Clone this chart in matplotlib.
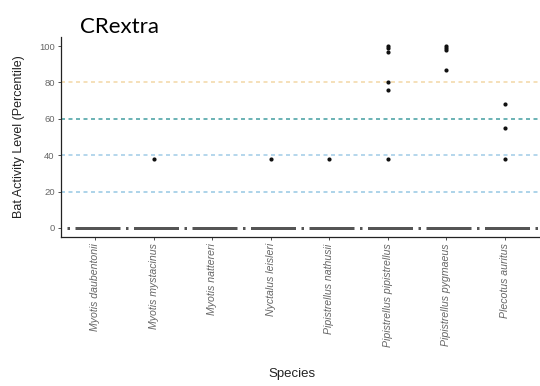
import matplotlib
matplotlib.use("Agg")
import matplotlib.pyplot as plt

plt.rcParams["lines.scale_dashes"] = False

species = [
    "Myotis daubentonii",
    "Myotis mystacinus",
    "Myotis nattereri",
    "Nyctalus leisleri",
    "Pipistrellus nathusii",
    "Pipistrellus pipistrellus",
    "Pipistrellus pygmaeus",
    "Plecotus auritus",
]

# non-zero activity percentiles per species
activity = {
    "Myotis daubentonii": [],
    "Myotis mystacinus": [38],
    "Myotis nattereri": [],
    "Nyctalus leisleri": [38],
    "Pipistrellus nathusii": [38],
    "Pipistrellus pipistrellus": [100, 99, 97, 80, 76, 38],
    "Pipistrellus pygmaeus": [100, 99, 98, 87],
    "Plecotus auritus": [68, 55, 38],
}

threshold_levels = [80, 60, 40, 20]
threshold_colors = ["#f3d7a4", "#3f9c9e", "#9fcbe6", "#94c6e2"]
y_ticks = [0, 20, 40, 60, 80, 100]

DPI = 100
px = 72.0 / DPI  # pixels -> points

fig = plt.figure(figsize=(5.40, 3.86), dpi=DPI)
ax = fig.add_axes([61 / 540, 1 - 237 / 386, 1 - 61 / 540, (237 - 37) / 386])

ax.set_xlim(-0.58, len(species) - 1 + 0.6)
ax.set_ylim(-5, 105)

for lvl, col in zip(threshold_levels, threshold_colors):
    ax.axhline(lvl, color=col, lw=1.5 * px, linestyle=(0, (4 * px, 3.5 * px)), zorder=1)

# dash-dot reference line at zero
ax.axhline(0, color="#555555", lw=3.0 * px, dash_capstyle="butt",
           linestyle=(44.5 * px, (45 * px, 5.5 * px, 2.5 * px, 5.5 * px)), zorder=2)

for i, sp in enumerate(species):
    vals = activity[sp]
    ax.scatter([i] * len(vals), vals, s=9, color="#111111", zorder=3, linewidths=0)

ax.set_xticks(range(len(species)))
ax.set_xticklabels(species, rotation=90, style="italic", fontsize=7.6,
                   color="#666666", family="Liberation Sans", va="top", ha="center")
ax.set_yticks(y_ticks)
ax.set_yticklabels([str(v) for v in y_ticks], fontsize=6.8, color="#666666",
                   family="Liberation Sans")
ax.tick_params(axis="both", length=2.5, width=0.6, color="#333333", pad=2)

for side in ("top", "right"):
    ax.spines[side].set_visible(False)
for side in ("left", "bottom"):
    ax.spines[side].set_linewidth(0.9)
    ax.spines[side].set_color("#222222")

ax.set_ylabel("Bat Activity Level (Percentile)", fontsize=9, family="Liberation Sans",
              color="#222222", labelpad=10)
fig.text(292 / 540, 1 - 374 / 386, "Species", fontsize=9.5, family="Liberation Sans",
         color="#222222", ha="center", va="center")

fig.text(80 / 540, 1 - 33 / 386, "CRextra", fontsize=16, family="Lato",
         color="#000000", ha="left", va="baseline")

fig.savefig("out.png", dpi=DPI)
